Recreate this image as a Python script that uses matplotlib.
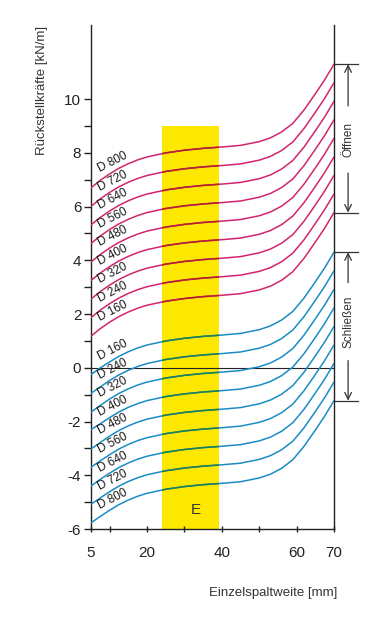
import numpy as np
import matplotlib
matplotlib.use("Agg")
import matplotlib.pyplot as plt
from matplotlib.patches import Rectangle
from matplotlib.transforms import blended_transform_factory

plt.rcParams['font.family'] = ['Liberation Sans', 'DejaVu Sans']
plt.rcParams['axes.unicode_minus'] = False

# ---- data ----
x_gap = [5, 7.5, 10, 12.5, 15, 17.5, 20, 25, 30, 35, 40, 45, 50, 53, 56, 59, 62, 65, 67.5, 70]

open_labels = ["D 800", "D 720", "D 640", "D 560", "D 480", "D 400", "D 320", "D 240", "D 160"]
open_D800 = [6.70, 6.98, 7.22, 7.43, 7.60, 7.74, 7.85, 8.00, 8.10, 8.17, 8.22, 8.28, 8.42, 8.56, 8.78, 9.10, 9.60, 10.20, 10.72, 11.30]
open_D720 = [6.01, 6.29, 6.53, 6.74, 6.91, 7.05, 7.16, 7.31, 7.41, 7.48, 7.53, 7.59, 7.73, 7.87, 8.09, 8.41, 8.91, 9.51, 10.03, 10.61]
open_D640 = [5.32, 5.60, 5.84, 6.05, 6.22, 6.36, 6.47, 6.62, 6.72, 6.79, 6.84, 6.90, 7.04, 7.18, 7.40, 7.72, 8.22, 8.82, 9.34, 9.92]
open_D560 = [4.63, 4.91, 5.15, 5.36, 5.53, 5.67, 5.78, 5.93, 6.03, 6.10, 6.15, 6.21, 6.35, 6.49, 6.71, 7.03, 7.53, 8.13, 8.65, 9.23]
open_D480 = [3.94, 4.22, 4.46, 4.67, 4.84, 4.98, 5.09, 5.24, 5.34, 5.41, 5.46, 5.52, 5.66, 5.80, 6.02, 6.34, 6.84, 7.44, 7.96, 8.54]
open_D400 = [3.25, 3.53, 3.77, 3.98, 4.15, 4.29, 4.40, 4.55, 4.65, 4.72, 4.77, 4.83, 4.97, 5.11, 5.33, 5.65, 6.15, 6.75, 7.27, 7.85]
open_D320 = [2.56, 2.84, 3.08, 3.29, 3.46, 3.60, 3.71, 3.86, 3.96, 4.03, 4.08, 4.14, 4.28, 4.42, 4.64, 4.96, 5.46, 6.06, 6.58, 7.16]
open_D240 = [1.87, 2.15, 2.39, 2.60, 2.77, 2.91, 3.02, 3.17, 3.27, 3.34, 3.39, 3.45, 3.59, 3.73, 3.95, 4.27, 4.77, 5.37, 5.89, 6.47]
open_D160 = [1.18, 1.46, 1.70, 1.91, 2.08, 2.22, 2.33, 2.48, 2.58, 2.65, 2.70, 2.76, 2.90, 3.04, 3.26, 3.58, 4.08, 4.68, 5.20, 5.78]

close_labels = ["D 160", "D 240", "D 320", "D 400", "D 480", "D 560", "D 640", "D 720", "D 800"]
close_D160 = [-0.25, 0.00, 0.22, 0.43, 0.60, 0.74, 0.85, 1.00, 1.10, 1.17, 1.22, 1.28, 1.42, 1.56, 1.78, 2.10, 2.60, 3.20, 3.72, 4.30]
close_D240 = [-0.95, -0.71, -0.47, -0.26, -0.09, 0.05, 0.16, 0.31, 0.41, 0.48, 0.53, 0.59, 0.73, 0.87, 1.09, 1.41, 1.91, 2.51, 3.03, 3.61]
close_D320 = [-1.65, -1.40, -1.16, -0.95, -0.78, -0.64, -0.53, -0.38, -0.28, -0.21, -0.16, -0.10, 0.04, 0.18, 0.40, 0.72, 1.22, 1.82, 2.34, 2.92]
close_D400 = [-2.30, -2.08, -1.85, -1.64, -1.47, -1.33, -1.22, -1.07, -0.97, -0.90, -0.85, -0.79, -0.65, -0.51, -0.29, 0.03, 0.53, 1.13, 1.65, 2.23]
close_D480 = [-3.02, -2.78, -2.54, -2.33, -2.16, -2.02, -1.91, -1.76, -1.66, -1.59, -1.54, -1.48, -1.34, -1.20, -0.98, -0.66, -0.16, 0.44, 0.96, 1.54]
close_D560 = [-3.70, -3.46, -3.23, -3.02, -2.85, -2.71, -2.60, -2.45, -2.35, -2.28, -2.23, -2.17, -2.03, -1.89, -1.67, -1.35, -0.85, -0.25, 0.27, 0.85]
close_D640 = [-4.40, -4.15, -3.92, -3.71, -3.54, -3.40, -3.29, -3.14, -3.04, -2.97, -2.92, -2.86, -2.72, -2.58, -2.36, -2.04, -1.54, -0.94, -0.42, 0.16]
close_D720 = [-5.08, -4.84, -4.61, -4.40, -4.23, -4.09, -3.98, -3.83, -3.73, -3.66, -3.61, -3.55, -3.41, -3.27, -3.05, -2.73, -2.23, -1.63, -1.11, -0.53]
close_D800 = [-5.77, -5.53, -5.30, -5.09, -4.92, -4.78, -4.67, -4.52, -4.42, -4.35, -4.30, -4.24, -4.10, -3.96, -3.74, -3.42, -2.92, -2.32, -1.80, -1.22]

open_series = [open_D800, open_D720, open_D640, open_D560, open_D480,
               open_D400, open_D320, open_D240, open_D160]
close_series = [close_D160, close_D240, close_D320, close_D400, close_D480,
                close_D560, close_D640, close_D720, close_D800]

band_x = (24.0, 39.2)
band_top = 9.0
band_label = "E"

x_major = [5, 20, 40, 60, 70]
x_minor = [10, 30, 50]
y_major = [-6, -4, -2, 0, 2, 4, 6, 8, 10]
y_minor = [-5, -3, -1, 1, 3, 5, 7, 9]

# ---- style ----
MAG = '#d2246f'
MAG_Y = '#b3202e'
BLU = '#1a8cc4'
BLU_Y = '#1f7f4e'
YEL = '#ffe800'

fig = plt.figure(figsize=(3.88, 6.18), dpi=100)
ax = fig.add_axes([0.2345, 0.1440, 0.6263, 0.8155])
ax.set_xlim(5, 70)
ax.set_ylim(-6, 12.76)

ax.add_patch(Rectangle((band_x[0], -6), band_x[1] - band_x[0], band_top + 6,
                       facecolor=YEL, edgecolor='none', zorder=1))
clip_rect = Rectangle((band_x[0], -6), band_x[1] - band_x[0], band_top + 6,
                      transform=ax.transData)

ax.plot([5, 70], [0, 0], color='#222222', lw=0.8, zorder=2)

def draw(series, labels, c_out, c_in):
    for ys, lab in zip(series, labels):
        ax.plot(x_gap, ys, color=c_out, lw=1.1, zorder=3, solid_capstyle='round',
                solid_joinstyle='round')
        ln, = ax.plot(x_gap, ys, color=c_in, lw=1.1, zorder=4, solid_joinstyle='round')
        ln.set_clip_path(clip_rect)
        ly = np.interp(10.8, x_gap, ys) + 0.36
        ax.text(10.8, ly, lab, rotation=27, ha='center', va='center',
                fontsize=8.5, color='#1a1a1a', zorder=5)

draw(open_series, open_labels, MAG, MAG_Y)
draw(close_series, close_labels, BLU, BLU_Y)

ax.text(33.0, -5.3, band_label, fontsize=11, color='#333333', ha='center', va='center', zorder=5)

# spines & ticks
ax.spines['top'].set_visible(False)
for s in ['left', 'right', 'bottom']:
    ax.spines[s].set_color('#222222')
    ax.spines[s].set_linewidth(1.0)

ax.set_xticks(x_major)
ax.set_xticks(x_minor, minor=True)
ax.set_yticks(y_major)
ax.set_yticks(y_minor, minor=True)
ax.tick_params(axis='y', which='both', direction='out', length=5, width=1.0,
               color='#222222', labelsize=11, pad=2, labelcolor='#222222')
ax.tick_params(axis='x', which='both', direction='inout', length=5, width=1.0,
               color='#222222', labelsize=11, pad=10, labelcolor='#222222')

ax.text(-0.20, 0.871, "Rückstellkräfte [kN/m]", transform=ax.transAxes,
        rotation=90, ha='center', va='center', fontsize=9.5, color='#333333')
ax.text(0.749, -0.127, "Einzelspaltweite [mm]", transform=ax.transAxes,
        ha='center', va='center', fontsize=9.5, color='#333333')

# right side annotation
tr = blended_transform_factory(ax.transAxes, ax.transData)
o_top = max(s[-1] for s in open_series)
o_bot = min(s[-1] for s in open_series)
c_top = max(s[-1] for s in close_series)
c_bot = min(s[-1] for s in close_series)

def bracket(top, bot, text, tmid, half):
    for yy in (top, bot):
        ax.plot([1.0, 1.1], [yy, yy], transform=tr, color='#333333', lw=0.9, clip_on=False)
    ax.annotate('', xy=(1.058, top), xytext=(1.058, tmid + half), xycoords=tr, textcoords=tr,
                arrowprops=dict(arrowstyle='->', color='#333333', lw=0.9,
                                mutation_scale=12, shrinkA=0, shrinkB=0))
    ax.annotate('', xy=(1.058, bot), xytext=(1.058, tmid - half), xycoords=tr, textcoords=tr,
                arrowprops=dict(arrowstyle='->', color='#333333', lw=0.9,
                                mutation_scale=12, shrinkA=0, shrinkB=0))
    ax.text(1.058, tmid, text, transform=tr, rotation=90, ha='center', va='center',
            fontsize=8.5, color='#333333', clip_on=False)

bracket(o_top, o_bot, "Öffnen", 8.5, 1.25)
bracket(c_top, c_bot, "Schließen", 1.72, 1.45)

fig.savefig("out.png", dpi=100)
